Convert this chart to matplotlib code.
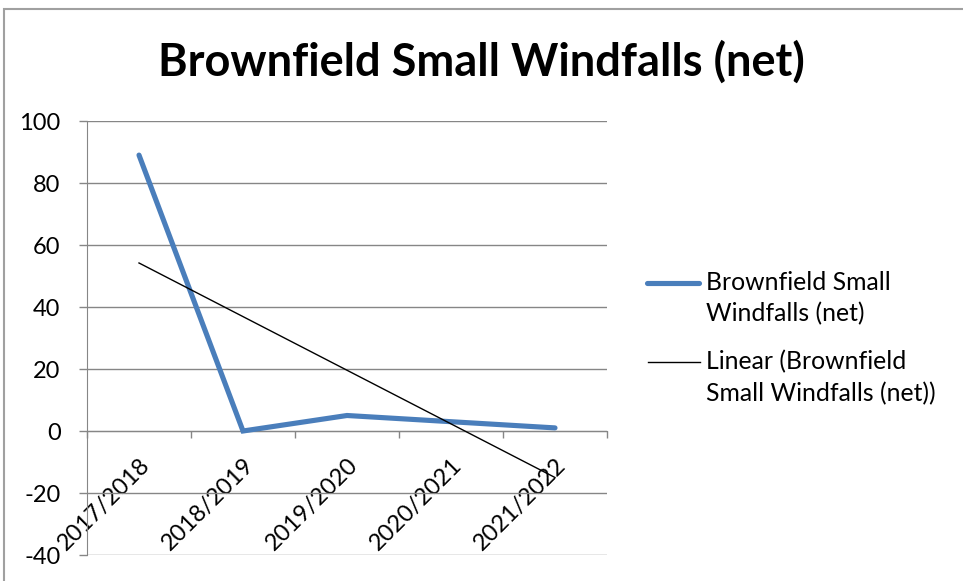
import numpy as np
import matplotlib
matplotlib.use("Agg")
import matplotlib.pyplot as plt
from matplotlib.patches import Rectangle
from matplotlib.lines import Line2D

categories = ["2017/2018", "2018/2019", "2019/2020", "2020/2021", "2021/2022"]
values = [89, 0, 5, 3, 1]
series_label = ["Brownfield Small", "Windfalls (net)"]
trend_label = ["Linear (Brownfield", "Small Windfalls (net))"]
title = "Brownfield Small Windfalls (net)"
yticks = [-40, -20, 0, 20, 40, 60, 80, 100]

plt.rcParams['font.family'] = ['Lato', 'DejaVu Sans']
FS = 17
BLUE = '#4A7EBB'

fig = plt.figure(figsize=(9.63, 5.81), dpi=100)
ax = fig.add_axes([87/963, 1-555/581, 520/963, 434/581])

x = np.arange(len(categories))
ax.plot(x, values, color=BLUE, lw=3.7, solid_capstyle='round',
        solid_joinstyle='miter', zorder=3)
coef = np.polyfit(x, values, 1)
ax.plot(x, np.polyval(coef, x), color='black', lw=1.0, zorder=4)

ax.set_xlim(-0.5, len(categories) - 0.5)
ax.set_ylim(-40, 100)
ax.set_yticks(yticks)
ax.set_yticklabels([str(v) for v in yticks])
ax.yaxis.grid(True, color='#868686', lw=1.0)
ax.set_axisbelow(True)

for s in ['top', 'right']:
    ax.spines[s].set_visible(False)
ax.spines['left'].set_color('#868686')
ax.spines['bottom'].set_color('#868686')
ax.spines['bottom'].set_position(('data', 0))

ax.set_xticks(np.arange(-0.5, len(categories), 1.0))
ax.set_xticklabels([])
ax.set_xticks(x, minor=True)
ax.set_xticklabels(categories, minor=True, rotation=45, ha='right',
                   rotation_mode='anchor', fontsize=FS)
ax.tick_params(axis='x', which='major', direction='out', length=5,
               color='#868686', width=1)
ax.tick_params(axis='x', which='minor', length=0, pad=17)
ax.tick_params(axis='y', direction='out', length=6, color='#868686',
               width=1, labelsize=FS, pad=13)

fig.suptitle(title, x=0.5, y=1-62/581, va='center', fontsize=32.5,
             fontweight='bold')

# legend (Excel style: marker aligned with the first line of each label)
def fy(py):
    return 1 - py / 581

def fx(px):
    return px / 963

fig.add_artist(Line2D([fx(647), fx(699)], [fy(283), fy(283)], color=BLUE,
                      lw=3.7, solid_capstyle='round'))
fig.add_artist(Line2D([fx(648), fx(700)], [fy(362), fy(362)], color='black',
                      lw=1.0))
for lbl, ys in ((series_label, (283, 314)), (trend_label, (362, 394))):
    for line, py in zip(lbl, ys):
        fig.text(fx(706), fy(py), line, fontsize=17.8, ha='left', va='center')

fig.patches.append(Rectangle((4/963, -0.1), 1.2, 1-9/581+0.1,
                             transform=fig.transFigure, fill=False,
                             edgecolor='#A0A0A0', lw=1.5))

fig.savefig('out.png', dpi=100)
